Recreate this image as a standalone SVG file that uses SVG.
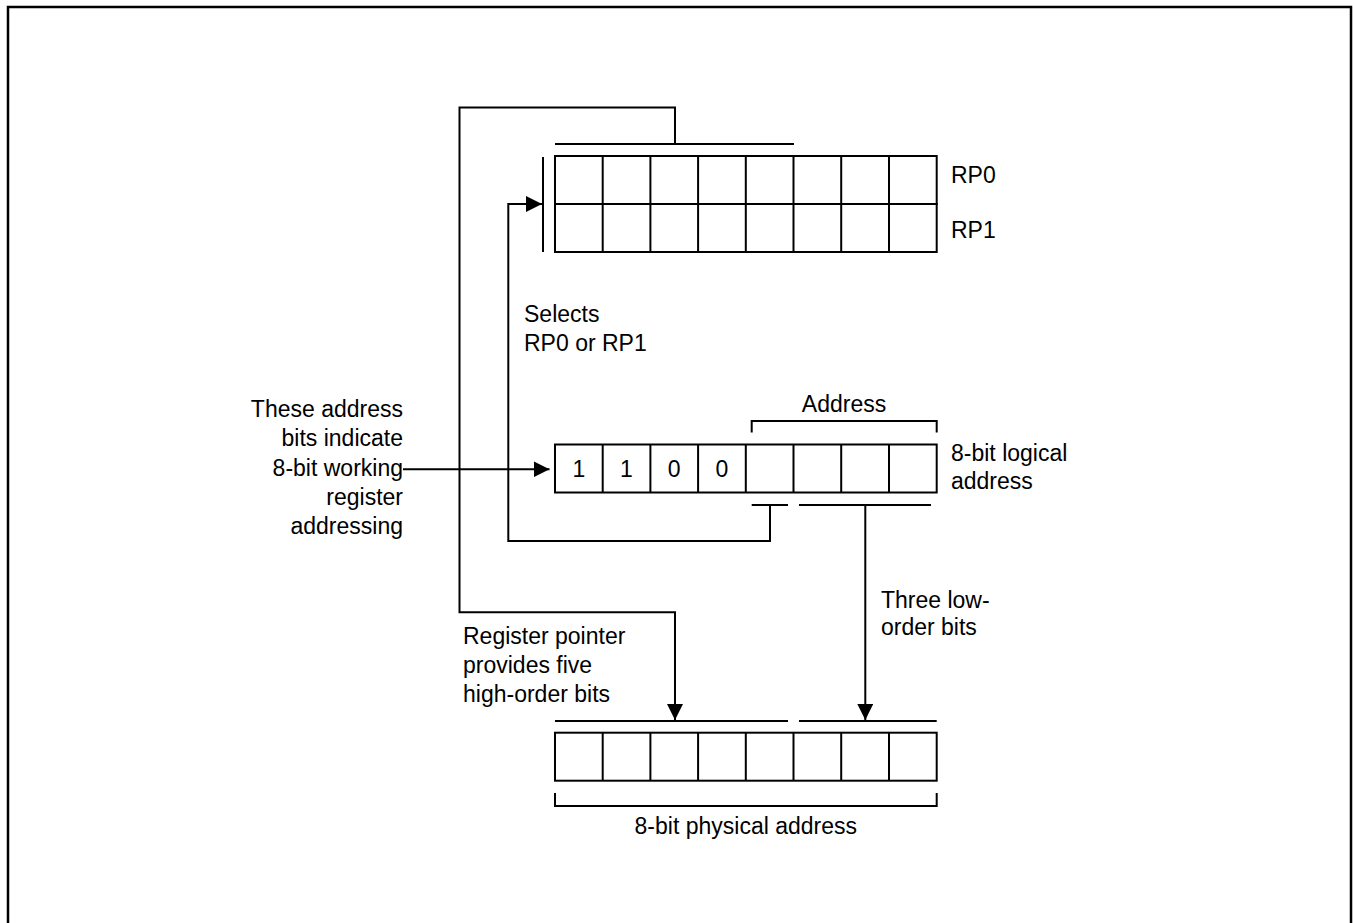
<svg xmlns="http://www.w3.org/2000/svg" width="1354" height="923" viewBox="0 0 1354 923">
<style>
.ln{fill:none;stroke:#000;stroke-width:2}
.t{font-family:"Liberation Sans",Arial,sans-serif;font-size:23px;fill:#000}
.e{text-anchor:end}
.m{text-anchor:middle}
</style>
<defs>
<marker id="ar" markerWidth="16" markerHeight="16" refX="16" refY="8" orient="auto" markerUnits="userSpaceOnUse">
<path d="M0,0 L16,8 L0,16 Z" fill="#000"/>
</marker>
<g id="cells">
<rect x="555" y="0" width="381.7" height="48" class="ln"/>
<path class="ln" d="M602.7,0V48M650.4,0V48M698.1,0V48M745.8,0V48M793.5,0V48M841.2,0V48M889,0V48"/>
</g>
</defs>
<rect x="8" y="7" width="1343" height="930" fill="none" stroke="#000" stroke-width="2.5"/>

<g id="rp-registers">
<use href="#cells" y="156"/>
<use href="#cells" y="204"/>
<line class="ln" x1="543" y1="157" x2="543" y2="252"/>
<line class="ln" x1="555" y1="144" x2="794" y2="144"/>
<text class="t" x="951" y="183">RP0</text>
<text class="t" x="951" y="238">RP1</text>
</g>

<g id="logical-address">
<use href="#cells" y="444.5"/>
<text class="t m" x="578.8" y="477">1</text>
<text class="t m" x="626.5" y="477">1</text>
<text class="t m" x="674.2" y="477">0</text>
<text class="t m" x="721.9" y="477">0</text>
<path class="ln" d="M751.7,432.5V421H936.7V432.5"/>
<text class="t m" x="844" y="412">Address</text>
<text class="t" x="951" y="461">8-bit logical</text>
<text class="t" x="951" y="489">address</text>
<line class="ln" x1="751.7" y1="505" x2="788" y2="505"/>
<line class="ln" x1="799" y1="505" x2="931" y2="505"/>
</g>

<g id="physical-address">
<use href="#cells" y="732.7"/>
<line class="ln" x1="555" y1="721" x2="788" y2="721"/>
<line class="ln" x1="799" y1="721" x2="936.7" y2="721"/>
<path class="ln" d="M555,793V806H936.7V793"/>
<text class="t m" x="745.8" y="834">8-bit physical address</text>
</g>

<g id="labels">
<text class="t e" x="403" y="417">These address</text>
<text class="t e" x="403" y="446">bits indicate</text>
<text class="t e" x="403" y="476">8-bit working</text>
<text class="t e" x="403" y="505">register</text>
<text class="t e" x="403" y="534">addressing</text>
<text class="t" x="524" y="322">Selects</text>
<text class="t" x="524" y="351">RP0 or RP1</text>
<text class="t" x="463" y="644">Register pointer</text>
<text class="t" x="463" y="673">provides five</text>
<text class="t" x="463" y="702">high-order bits</text>
<text class="t" x="881" y="608">Three low-</text>
<text class="t" x="881" y="635">order bits</text>
</g>

<g id="connectors">
<path class="ln" d="M675,144V107.5H459.5V612.3H675V720" marker-end="url(#ar)"/>
<path class="ln" d="M770,505V541H508.3V204H542" marker-end="url(#ar)"/>
<path class="ln" d="M403,469.3H549.5" marker-end="url(#ar)"/>
<path class="ln" d="M865.3,505V720" marker-end="url(#ar)"/>
</g>
</svg>
